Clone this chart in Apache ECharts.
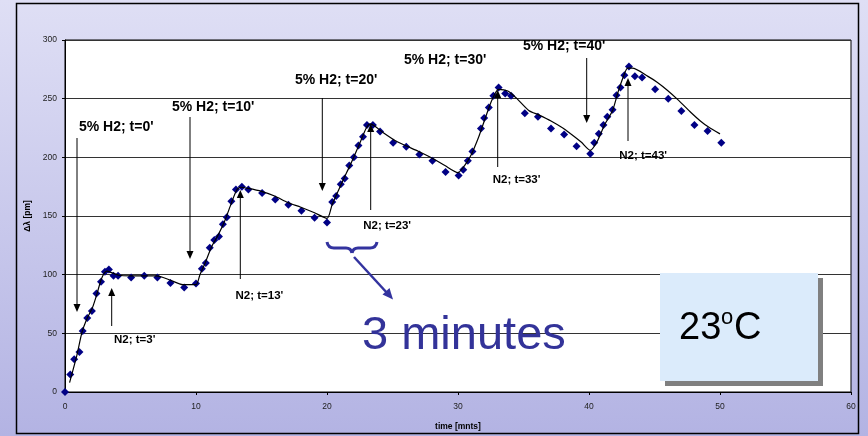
<!DOCTYPE html>
<html><head><meta charset="utf-8">
<script src="https://cdn.jsdelivr.net/npm/echarts@6/dist/echarts.min.js"></script>
<style>html,body{margin:0;padding:0;overflow:hidden;}#c{width:868px;height:436px;}</style>
</head><body><div id="c"></div>
<script>
// ---- data ----
const timeTicks = [0, 10, 20, 30, 40, 50, 60];
const shiftTicks = [0, 50, 100, 150, 200, 250, 300];

const measTime = [0,0.4,0.7,1.1,1.35,1.7,2.05,2.4,2.75,3.05,3.35,3.7,4.05,5.05,6.05,7.05,8.05,9.1,10.0,10.45,10.75,11.05,11.4,11.75,12.05,12.35,12.7,13.05,13.5,14.0,15.05,16.05,17.05,18.05,19.05,20.0,20.4,20.7,21.05,21.35,21.7,22.05,22.4,22.75,23.05,23.5,24.05,25.05,26.05,27.05,28.05,29.05,30.05,30.4,30.75,31.1,31.75,32.0,32.35,32.7,33.1,33.6,34.05,35.1,36.1,37.1,38.1,39.05,40.1,40.4,40.75,41.1,41.4,41.8,42.1,42.4,42.7,43.05,43.5,44.05,45.05,46.05,47.05,48.05,49.05,50.1];
const measShift = [0,15,28,34,52,63,69,84,94,102.5,104.5,99,99,97.5,99,97.5,93,89,92.5,105,110,123,129.5,132.5,143,149,162.5,172.5,175,172.5,169.5,164,159.5,154.5,148.5,144.5,162,167,177,182,193,200,210,217.5,227.5,227.5,222,212.5,209,202.5,197,187.5,184.5,189.5,197,205,224.5,233.5,242.5,252.5,259.5,254.5,252.5,237.5,234.5,224.5,219.5,209.5,203,212.5,220,227.5,234.5,240.5,253,259.5,270,277.5,269,268,258,250,239.5,227.5,222.5,212.5];

const fitTime = [0.35,0.9,1.3,1.7,2.1,2.45,2.8,3.2,3.6,4.1,5,6,7,8,9,10,10.3,10.7,11.2,11.7,12.2,12.7,13.1,13.4,14,15,16,17,18,19,20,20.4,21,21.5,22,22.5,23,23.3,23.6,24.3,25.4,26.2,27,28,29,30,30.5,31,31.6,32.1,32.6,33.1,33.8,34.5,35.4,36.2,37.1,38,38.6,39.4,40.1,40.6,41.2,41.8,42.2,42.6,42.95,43.3,44.5,45.2,46,46.8,47.8,48.5,49.1,50];
const fitShift = [8,31,51,63,72,84,97,103,101.5,99.5,99,99,99,95.5,91.5,91.5,100,110,124,134,146,161,172,174.5,173.5,171,167,161.5,157.5,153,148,160,175,187,199,212,225,228.5,227,221,213,209,205,199.5,193,187,193,202,218,234,249,258,256.5,250,240,236,231,225,220,213,206,213,228,240,255,268,276,276,269,264,257,249,238,231,226,220];

const h2Labels = ["5% H2; t=0'", "5% H2; t=10'", "5% H2; t=20'", "5% H2; t=30'", "5% H2; t=40'"];
const n2Labels = ["N2; t=3'", "N2; t=13'", "N2; t=23'", "N2; t=33'", "N2; t=43'"];
const spanLabel = "3 minutes";
const tempLabel = ["23", "o", "C"];
const xTitle = "time [mnts]";
const yTitle = "Δλ [pm]";

// ---- chart ----
const chart = echarts.init(document.getElementById('c'), null, {renderer: 'canvas'});
const FONT = '"Liberation Sans", Arial, sans-serif';

const measData = measTime.map((t, i) => [t, measShift[i]]);
const fitData = fitTime.map((t, i) => [t, fitShift[i]]);

// annotation layout (pixels)
const h2Pos = [[79,127],[172,107],[295,80],[404,60],[523,46]];
const downArrows = [[77,138,312],[190,117,259],[322.3,98,191],[586.7,58,123]];
const n2Pos = [[114,340],[235.5,296],[363.3,226],[492.7,180],[619.3,156]];
const upArrows = [[111.7,326,288],[240.3,279,190],[370.7,210,124],[497.7,167,90],[628,141,78]];

const g = [];
g.push({type:'rect', z:100, shape:{x:16.5,y:3.5,width:842,height:430}, style:{fill:'none', stroke:'#000', lineWidth:1.5}});
function downArrow(x, y1, y2){
  g.push({type:'line', z:100, shape:{x1:x,y1:y1,x2:x,y2:y2-6}, style:{stroke:'#000', lineWidth:1}});
  g.push({type:'polygon', z:100, shape:{points:[[x-3.5,y2-8],[x+3.5,y2-8],[x,y2]]}, style:{fill:'#000'}});
}
function upArrow(x, y1, y2){
  g.push({type:'line', z:100, shape:{x1:x,y1:y1,x2:x,y2:y2+6}, style:{stroke:'#000', lineWidth:1}});
  g.push({type:'polygon', z:100, shape:{points:[[x-3.5,y2+8],[x+3.5,y2+8],[x,y2]]}, style:{fill:'#000'}});
}
downArrows.forEach(a => downArrow(a[0], a[1], a[2]));
upArrows.forEach(a => upArrow(a[0], a[1], a[2]));
h2Labels.forEach((s, i) => g.push({type:'text', z:100, x:h2Pos[i][0], y:h2Pos[i][1],
  style:{text:s, fill:'#000', font:'bold 14px ' + FONT, textVerticalAlign:'middle', textAlign:'left'}}));
n2Labels.forEach((s, i) => g.push({type:'text', z:100, x:n2Pos[i][0], y:n2Pos[i][1],
  style:{text:s, fill:'#000', font:'bold 11.5px ' + FONT, textVerticalAlign:'middle', textAlign:'left'}}));

// brace + arrow
const BR = '#33339f';
function qb(x1,y1,cx,cy,x2,y2){
  g.push({type:'bezierCurve', z:100, shape:{x1:x1,y1:y1,x2:x2,y2:y2,cpx1:cx,cpy1:cy}, style:{fill:'none', stroke:BR, lineWidth:3}});
}
qb(327,242,328,248,334,248);
g.push({type:'line', z:100, shape:{x1:334,y1:248,x2:346,y2:248}, style:{stroke:BR, lineWidth:3}});
qb(346,248,351,248,352,253);
qb(352,253,353,248,358,248);
g.push({type:'line', z:100, shape:{x1:358,y1:248,x2:370,y2:248}, style:{stroke:BR, lineWidth:3}});
qb(370,248,376,248,377,242);
g.push({type:'line', z:100, shape:{x1:354,y1:257,x2:388,y2:294}, style:{stroke:BR, lineWidth:2.5}});
g.push({type:'polygon', z:100, shape:{points:[[393,299.5],[382.5,294.5],[389.5,288]]}, style:{fill:BR}});
g.push({type:'text', z:100, x:362, y:336, style:{text:spanLabel, fill:'#333399', font:'47px ' + FONT, textVerticalAlign:'middle'}});

// temperature box
g.push({type:'rect', z:100, shape:{x:665,y:278,width:158,height:108}, style:{fill:'#808080'}});
g.push({type:'rect', z:101, shape:{x:660,y:273,width:158,height:108}, style:{fill:'#dbebfb'}});
g.push({type:'text', z:102, x:679, y:329, style:{text:tempLabel[0], fill:'#000', font:'38px ' + FONT, textVerticalAlign:'middle'}});
g.push({type:'text', z:102, x:721, y:318, style:{text:tempLabel[1], fill:'#000', font:'22px ' + FONT, textVerticalAlign:'middle'}});
g.push({type:'text', z:102, x:734, y:329, style:{text:tempLabel[2], fill:'#000', font:'38px ' + FONT, textVerticalAlign:'middle'}});

chart.setOption({
  animation: false,
  backgroundColor: new echarts.graphic.LinearGradient(0, 0, 0, 1, [
    {offset: 0, color: '#dfdff5'}, {offset: 1, color: '#b3b3e3'}]),
  grid: {left: 65, right: 17, top: 40, bottom: 39, show: true, backgroundColor: '#fff', borderColor: '#000', borderWidth: 1},
  xAxis: {
    type: 'value', min: timeTicks[0], max: timeTicks[timeTicks.length-1], interval: 10,
    name: xTitle, nameLocation: 'middle', nameGap: 30,
    nameTextStyle: {fontFamily: FONT, fontWeight: 'bold', fontSize: 8.5, color: '#000'},
    axisLine: {show: true, lineStyle: {color: '#000', width: 1}},
    axisTick: {show: true, length: 3, lineStyle: {color: '#000'}},
    axisLabel: {fontFamily: FONT, fontSize: 8.5, color: '#222', margin: 10},
    splitLine: {show: false}
  },
  yAxis: {
    type: 'value', min: shiftTicks[0], max: shiftTicks[shiftTicks.length-1], interval: 50,
    name: yTitle, nameLocation: 'middle', nameGap: 23, nameRotate: 90,
    nameTextStyle: {fontFamily: FONT, fontWeight: 'bold', fontSize: 8.5, color: '#000'},
    axisLine: {show: true, lineStyle: {color: '#000', width: 1}},
    axisTick: {show: true, length: 3, lineStyle: {color: '#000'}},
    axisLabel: {fontFamily: FONT, fontSize: 8.5, color: '#222', margin: 8},
    splitLine: {show: true, lineStyle: {color: '#333', width: 1}}
  },
  series: [
    {type: 'scatter', data: measData, symbol: 'diamond', symbolSize: 8,
     itemStyle: {color: '#000085', opacity: 1}, z: 3},
    {type: 'line', data: fitData, showSymbol: false, symbol: 'none', smooth: 0.25,
     lineStyle: {color: '#000', width: 1.2}, z: 4}
  ],
  graphic: g
});
</script></body></html>
